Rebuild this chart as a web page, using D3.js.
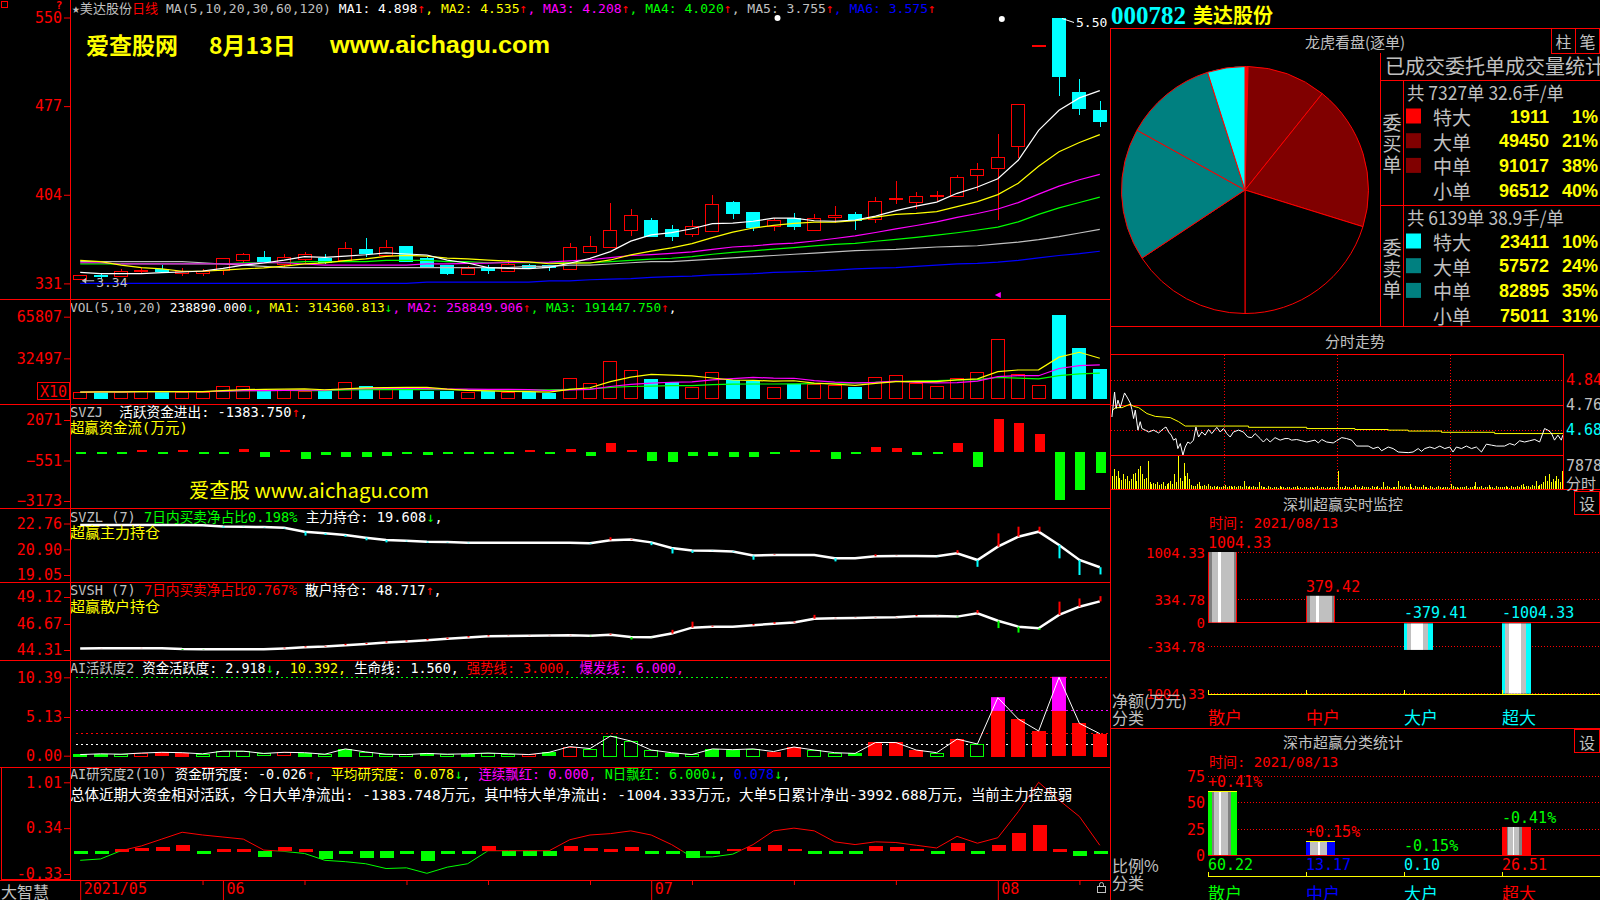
<!DOCTYPE html>
<html>
<head>
<meta charset="utf-8">
<title>000782 美达股份</title>
<script src="https://cdn.jsdelivr.net/npm/d3@7/dist/d3.min.js"></script>
<style>
  html, body { margin: 0; padding: 0; background: #000; overflow: hidden; }
  svg { display: block; }
  text { white-space: pre; }
</style>
</head>
<body>
<div id="chart"></div>
<script>
// ---- daily candles 2021/05 .. 2021/08/13 ----
var open  = [3.35,3.38,3.37,3.41,3.43,3.39,3.39,3.42,3.50,3.53,
             3.47,3.51,3.52,3.50,3.59,3.54,3.62,3.52,3.46,3.39,
             3.44,3.41,3.46,3.46,3.43,3.57,3.61,3.75,3.83,3.76,
             3.71,3.74,3.98,3.90,3.78,3.85,3.75,3.85,3.88,3.84,
             4.00,3.98,4.03,4.03,4.20,4.26,4.44,5.27,5.50,4.89,4.74];
var close = [3.38,3.37,3.41,3.42,3.41,3.41,3.41,3.52,3.55,3.50,
             3.53,3.55,3.49,3.60,3.56,3.61,3.50,3.45,3.39,3.44,
             3.42,3.47,3.44,3.44,3.61,3.62,3.75,3.87,3.70,3.70,
             3.78,3.96,3.89,3.78,3.83,3.78,3.85,3.87,3.83,3.99,
             4.01,4.03,4.04,4.19,4.25,4.35,4.79,5.27,5.02,4.76,4.65];
var high  = [3.38,3.39,3.43,3.44,3.46,3.44,3.43,3.52,3.56,3.58,
             3.55,3.57,3.55,3.65,3.68,3.67,3.62,3.53,3.46,3.45,
             3.46,3.50,3.47,3.46,3.64,3.70,3.97,3.92,3.85,3.79,
             3.83,4.04,3.99,3.90,3.85,3.89,3.88,3.95,3.90,4.02,
             4.15,4.06,4.07,4.20,4.30,4.54,4.79,5.27,5.50,4.99,4.81];
var low   = [3.34,3.35,3.36,3.39,3.40,3.37,3.37,3.38,3.48,3.50,
             3.44,3.48,3.47,3.49,3.53,3.53,3.49,3.44,3.38,3.38,
             3.39,3.41,3.43,3.41,3.43,3.56,3.61,3.70,3.69,3.66,
             3.69,3.74,3.84,3.74,3.74,3.75,3.75,3.81,3.75,3.81,
             3.96,3.92,3.99,4.02,4.07,3.83,4.34,5.27,4.85,4.70,4.60];

// moving averages
var ma5   = [3.40,3.39,3.39,3.39,3.398,3.404,3.412,3.434,3.460,3.478,
             3.502,3.530,3.524,3.534,3.546,3.562,3.552,3.544,3.502,3.478,
             3.440,3.434,3.432,3.442,3.476,3.516,3.572,3.658,3.710,3.728,
             3.760,3.802,3.806,3.822,3.848,3.848,3.826,3.822,3.832,3.864,
             3.910,3.946,3.980,4.052,4.104,4.172,4.324,4.570,4.736,4.838,4.898];
var ma10  = [3.50,3.49,3.46,3.44,3.43,3.41,3.41,3.42,3.43,3.438,
             3.453,3.471,3.479,3.497,3.512,3.532,3.541,3.534,3.518,3.512,
             3.501,3.493,3.488,3.472,3.477,3.478,3.503,3.545,3.576,3.602,
             3.638,3.687,3.732,3.766,3.788,3.804,3.814,3.814,3.827,3.856,
             3.879,3.886,3.901,3.942,3.984,4.041,4.135,4.275,4.394,4.471,4.535];
var ma20  = [3.48,3.48,3.47,3.47,3.47,3.47,3.47,3.47,3.47,3.48,
             3.48,3.47,3.46,3.46,3.46,3.46,3.46,3.47,3.47,3.475,
             3.477,3.482,3.484,3.485,3.495,3.505,3.522,3.540,3.547,3.557,
             3.570,3.590,3.610,3.619,3.633,3.641,3.659,3.680,3.702,3.729,
             3.759,3.787,3.817,3.854,3.886,3.923,3.975,4.045,4.111,4.164,4.208];
var ma30  = [3.47,3.47,3.47,3.47,3.47,3.47,3.47,3.47,3.48,3.48,
             3.48,3.49,3.49,3.49,3.49,3.50,3.50,3.50,3.49,3.49,
             3.48,3.48,3.48,3.48,3.48,3.48,3.49,3.50,3.51,3.517,
             3.531,3.550,3.566,3.578,3.592,3.605,3.619,3.631,3.640,3.657,
             3.673,3.689,3.707,3.727,3.750,3.774,3.817,3.878,3.932,3.976,4.020];
var ma60  = [3.49,3.49,3.49,3.49,3.49,3.49,3.48,3.47,3.46,3.45,
             3.44,3.44,3.44,3.44,3.44,3.44,3.44,3.44,3.44,3.44,
             3.44,3.44,3.45,3.45,3.46,3.46,3.47,3.48,3.49,3.49,
             3.50,3.51,3.52,3.53,3.54,3.55,3.56,3.57,3.58,3.585,
             3.59,3.60,3.61,3.615,3.62,3.635,3.65,3.67,3.695,3.725,3.755];
var ma120 = [3.31,3.31,3.31,3.31,3.31,3.31,3.31,3.31,3.31,3.31,
             3.31,3.31,3.31,3.31,3.31,3.31,3.31,3.32,3.32,3.32,
             3.32,3.32,3.32,3.33,3.33,3.34,3.345,3.35,3.36,3.365,
             3.37,3.38,3.385,3.39,3.40,3.405,3.41,3.42,3.43,3.435,
             3.44,3.45,3.46,3.47,3.475,3.485,3.50,3.52,3.54,3.555,3.575];

var vol   = [55000,58700,58000,62000,58000,58000,55000,104000,101000,66000,
             72000,64000,66000,136000,104000,82000,77000,64000,64000,58000,
             61000,56000,53000,50000,165000,125000,304000,232000,160000,133000,
             98000,216000,152000,147000,98000,117000,117000,112000,99000,176000,
             189000,130000,104000,165000,216000,478000,197000,109000,673000,411000,238890];

// SVZJ 超赢资金流 (万元)
var svzj  = [-25,-25,-25,25,-25,25,-25,-25,170,-320,
             100,-475,-215,-320,-320,-260,-150,-195,-150,-80,
             -150,-150,100,-100,170,-260,605,130,-580,-650,
             -260,-260,-320,-320,-90,40,100,-475,-100,325,
             240,-215,-90,560,-970,2115,1900,1145,-3130,-2480,-1383.75];
// SVZL 主力持仓, SVSH 散户持仓
var svzl  = [22.65,22.65,22.66,22.66,22.65,22.65,22.64,22.55,22.53,22.50,
             22.45,22.17,22.05,21.93,21.74,21.57,21.52,21.45,21.42,21.38,
             21.38,21.38,21.38,21.38,21.38,21.33,21.55,21.60,21.40,21.00,
             20.82,20.80,20.75,20.45,20.49,20.49,20.49,20.26,20.26,20.40,
             20.42,20.42,20.40,20.62,20.13,21.09,21.81,22.17,21.21,20.13,19.61];
var svsh  = [44.45,44.46,44.46,44.48,44.48,44.40,44.37,44.37,44.37,44.37,
             44.45,44.55,44.62,44.75,44.85,44.98,45.08,45.20,45.32,45.45,
             45.55,45.58,45.60,45.62,45.65,45.60,45.70,45.48,45.46,45.80,
             46.34,46.43,46.43,46.55,46.70,46.80,47.15,47.19,47.22,47.25,
             47.28,47.38,47.40,47.34,47.64,46.97,46.43,46.28,47.49,48.24,48.72];
// AI活跃度2: value and bar kind (R red filled, r red hollow, G green filled, g green hollow)
var act   = [0.15,0.25,0.20,0.35,0.45,0.40,0.25,0.60,0.60,0.30,
             0.45,0.40,0.20,0.90,0.50,0.20,0.15,0.30,0.20,0.25,
             0.35,0.25,0.15,0.45,1.20,0.95,2.60,1.95,0.75,0.40,
             0.15,0.90,0.80,0.90,0.55,1.15,0.75,0.40,0.30,1.75,
             1.75,0.75,0.40,2.20,1.55,7.69,4.86,3.27,10.39,4.29,2.92];
var actKind = ["G","G","g","r","R","R","g","g","g","g",
               "r","G","g","G","g","g","g","G","g","G",
               "g","g","r","G","r","g","g","g","g","G",
               "g","G","G","g","R","R","g","g","G","R",
               "R","R","g","R","g","R","R","R","R","R","R"];
// AI研究度2
var resBar  = [-0.04,-0.01,0.03,0.05,0.06,0.09,-0.01,0.03,0.02,-0.08,
               0.06,0.02,-0.11,-0.01,-0.09,-0.09,-0.01,-0.14,-0.01,-0.01,
               0.08,-0.07,-0.07,-0.07,0.08,0.05,0.03,0.06,-0.01,-0.01,
               -0.10,-0.01,0.04,0.06,0.10,0.04,-0.04,-0.01,-0.01,0.08,
               0.06,0.04,-0.01,0.12,-0.01,0.10,0.27,0.39,0.03,-0.06,-0.03];
var resLine = [-0.13,-0.11,0.01,0.08,0.18,0.28,0.24,0.21,0.18,0.02,
               0.00,-0.03,-0.13,-0.15,-0.18,-0.25,-0.24,-0.32,-0.23,-0.18,
               0.01,0.01,0.01,0.01,0.17,0.24,0.26,0.30,0.24,0.10,
               -0.08,-0.08,-0.04,0.10,0.30,0.34,0.30,0.14,0.10,0.14,
               0.13,0.09,0.05,0.22,0.12,0.20,0.58,1.01,0.75,0.51,0.09];

var monthIdx = [0, 7, 28, 45];
var monthLabels = ["2021/05", "06", "07", "08"];
var weekIdx = [6, 11, 16, 20, 25, 30, 35, 40, 49];

// ---- 龙虎看盘 ----
var orderCats = ["特大", "大单", "中单", "小单"];
var buyVol  = [1911, 49450, 91017, 96512];
var buyPct  = ["1%", "21%", "38%", "40%"];
var sellVol = [23411, 57572, 82895, 75011];
var sellPct = ["10%", "24%", "35%", "31%"];

// ---- 分时 ----
var tickMin = [0.5,1.9,2.7,3.7,4.9,7.2,8.5,10.2,11.1,12,
               12.9,14.3,15.5,16.4,18.2,20,22.6,25.3,27.9,29.2,
               30.6,32,33.2,34.5,35.5,36.8,38.2,39.4,40.8,42.1,
               43.8,45.1,46.5,48.2,50,51.8,53.5,56.2,58,59.7,
               61.5,63.3,65,67.7,70.3,72.6,74.7,76.5,79.2,80.9,
               82.7,84.5,87.1,89.8,92.4,94.2,95.9,98.6,101.3,103.9,
               108.3,110.1,111.9,114.5,118,119.8,122.5,125.1,127.8,130.4,
               136.6,139.2,141.9,143.7,147.2,149.8,152.5,157.8,160.4,163.1,
               164.9,166.6,169.3,171.9,174.6,177.2,179.9,181.6,183.4,186.1,
               188.7,191.4,194,196.7,199.3,202,204.6,209,211.7,214.3,
               217,219.6,222.3,225,227.6,230.2,232,233.8,235.5,237.3,
               239.1,239.9];
var tickPx  = [4.720,4.800,4.747,4.774,4.750,4.797,4.784,4.765,4.744,4.715,
               4.742,4.678,4.705,4.683,4.678,4.672,4.678,4.669,4.683,4.688,
               4.672,4.662,4.646,4.651,4.619,4.635,4.598,4.624,4.640,4.635,
               4.646,4.688,4.656,4.672,4.662,4.680,4.667,4.687,4.672,4.683,
               4.667,4.656,4.672,4.678,4.672,4.656,4.654,4.667,4.651,4.640,
               4.651,4.640,4.654,4.646,4.651,4.651,4.646,4.648,4.644,4.640,
               4.646,4.637,4.648,4.640,4.637,4.644,4.654,4.651,4.646,4.627,
               4.627,4.619,4.624,4.612,4.624,4.619,4.608,4.606,4.608,4.619,
               4.610,4.619,4.624,4.619,4.627,4.619,4.624,4.608,4.624,4.619,
               4.627,4.619,4.624,4.608,4.633,4.630,4.627,4.627,4.635,4.630,
               4.644,4.640,4.644,4.648,4.640,4.683,4.678,4.669,4.646,4.662,
               4.646,4.662];
var avgMin = [0.5,2.3,5.8,10.2,12,14.7,19.1,23.5,31.5,35.9,39.4,73,73,103.9,103.9,
              129.5,129.5,147.2,147.2,157.8,157.8,175.5,175.5,203.7,203.7,240];
var avgPx  = [4.739,4.750,4.750,4.761,4.754,4.750,4.731,4.722,4.718,4.705,4.691,4.691,4.687,4.687,4.683,
              4.683,4.680,4.680,4.678,4.678,4.675,4.675,4.671,4.671,4.667,4.667];
var minuteVol = [3080,4620,3080,4240,2700,2160,3470,2310,3080,1930,
                 2310,3470,3850,1930,4620,5390,3470,2310,2700,6550,
                 1540,1160,1390,1160,1540,920,1160,1690,770,1160,
                 1390,1930,1160,3470,1540,7700,2700,1930,6160,3080,
                 3850,2310,920,620,770,1160,1540,620,770,920,
                 620,1160,770,390,620,460,770,390,460,620,
                 920,460,620,770,390,620,460,620,770,390,
                 1930,620,460,770,460,620,390,460,1690,620,
                 390,460,310,620,390,230,460,390,310,620,
                 460,390,230,390,540,310,460,390,620,310,
                 390,230,460,390,310,540,390,230,460,620,
                 310,390,460,230,390,310,540,390,460,310,
                 4240,460,390,310,620,390,460,230,390,920,
                 460,390,310,620,460,390,540,310,770,460,
                 390,620,310,460,1540,390,620,460,310,540,
                 390,460,1930,620,460,770,390,540,1160,460,
                 310,620,390,460,540,920,390,460,310,620,
                 390,230,460,620,390,310,460,390,540,310,
                 1160,620,390,460,310,540,390,460,620,310,
                 390,460,770,1540,460,390,620,310,460,390,
                 920,390,460,310,620,390,460,540,390,620,
                 460,310,770,460,390,620,460,920,1160,460,
                 620,770,460,920,620,1930,770,920,1160,1540,
                 3080,1930,3470,1540,2310,1930,3080,2310,1540,4240];

// ---- 超赢监控 ----
var groups = ["散户", "中户", "大户", "超大"];
var netAmt = [1004.33, 379.42, -379.41, -1004.33];
var ratio  = [60.22, 13.17, 0.10, 26.51];
var ratioChg = ["+0.41%", "+0.15%", "-0.15%", "-0.41%"];

var RED = "#ff0000", CYAN = "#00ffff", GRAY = "#c0c0c0", WHITE = "#ffffff", YEL = "#ffff00",
    MAG = "#ff00ff", GRN = "#00ff00", BLUE = "#0000ff", DRED = "#800000", TEAL = "#008080";
var MONO = '"DejaVu Sans Mono", "Noto Sans CJK SC", monospace';
var CJK = '"Noto Sans CJK SC", "Noto Sans", sans-serif';
var NUM = '"Liberation Sans Narrow", "Liberation Sans", sans-serif';

var svg = d3.select("#chart").append("svg")
    .attr("width", 1600).attr("height", 900)
    .style("background", "#000")
    .attr("font-family", MONO);
var defs = svg.append("defs");

var N = close.length, idx = d3.range(N);
var x = d3.scalePoint().domain(idx).range([70, 1110]).padding(0.5);
var bw = Math.round(x.step() * 0.7);
function cx(i) { return Math.round(x(i)) + 0.5; }
function bx(i, w) { return Math.round(x(i) - w / 2) + 0.5; }

function label(g, x0, y0, s, color, size, anchor, family, weight) {
  return g.append("text").attr("x", x0).attr("y", y0)
    .attr("fill", color).attr("font-size", size)
    .attr("text-anchor", anchor || "start")
    .attr("dominant-baseline", "central")
    .attr("font-family", family || MONO)
    .attr("font-weight", weight || "normal")
    .text(s);
}
// coloured title: natural glyphs, font size tuned so the line spans `len` px
function titleLine(g, x0, y0, parts, len, size) {
  var t = g.append("text").attr("x", x0).attr("y", y0)
    .attr("font-size", size).attr("dominant-baseline", "central");
  parts.forEach(function(p) { t.append("tspan").attr("fill", p[1]).text(p[0]); });
  var w = t.node().getComputedTextLength();
  if (w > 0) t.attr("font-size", (size * len / w).toFixed(2));
  return t;
}
function leftAxis(scale, vals, fmt) {
  var g = svg.append("g").attr("transform", "translate(70,0)")
    .call(d3.axisLeft(scale).tickValues(vals).tickFormat(fmt).tickSize(6).tickSizeOuter(0).tickPadding(2));
  g.select(".domain").remove();
  g.attr("color", RED).attr("font-size", 15).attr("font-family", MONO);
  return g;
}
function hline(g, x1, x2, y, color, dash) {
  var l = g.append("line").attr("x1", x1).attr("x2", x2).attr("y1", y).attr("y2", y)
    .attr("stroke", color).attr("shape-rendering", "crispEdges");
  if (dash) l.attr("stroke-dasharray", dash);
  return l;
}
function vline(g, xx, y1, y2, color, dash) {
  var l = g.append("line").attr("x1", xx).attr("x2", xx).attr("y1", y1).attr("y2", y2)
    .attr("stroke", color).attr("shape-rendering", "crispEdges");
  if (dash) l.attr("stroke-dasharray", dash);
  return l;
}

// ================= K line panel =================
var yP = d3.scaleLinear().domain([3.31, 5.50]).range([283.4, 17.5]);
leftAxis(yP, [5.50, 4.77, 4.04, 3.31], function(d) { return Math.round(d * 100); });

var gK = svg.append("g").attr("shape-rendering", "crispEdges");
function isUp(i) { return close[i] >= open[i]; }
gK.selectAll("line").data(idx).join("line")
  .attr("x1", cx).attr("x2", cx)
  .attr("y1", function(i) { return yP(high[i]); })
  .attr("y2", function(i) { return yP(low[i]); })
  .attr("stroke", function(i) { return isUp(i) ? RED : CYAN; });
gK.selectAll("rect").data(idx).join("rect")
  .attr("x", function(i) { return bx(i, bw); })
  .attr("width", bw - 1)
  .attr("y", function(i) { return Math.round(yP(Math.max(open[i], close[i]))) + 0.5; })
  .attr("height", function(i) { return Math.max(1, Math.round(Math.abs(yP(open[i]) - yP(close[i])))); })
  .attr("fill", function(i) {
    var h = Math.abs(yP(open[i]) - yP(close[i]));
    return isUp(i) ? (h < 2 ? RED : "#000") : CYAN;
  })
  .attr("stroke", function(i) { return isUp(i) ? RED : CYAN; });

var maSeries = [[ma120, BLUE], [ma60, GRAY], [ma30, GRN], [ma20, MAG], [ma10, YEL], [ma5, WHITE]];
var lineP = d3.line().x(function(d, i) { return x(i); }).y(function(d) { return yP(d); });
svg.append("g").selectAll("path").data(maSeries).join("path")
  .attr("d", function(d) { return lineP(d[0]); })
  .attr("fill", "none").attr("stroke", function(d) { return d[1]; }).attr("stroke-width", 1.2);

// high / low markers
var iHi = d3.maxIndex(high), iLo = d3.minIndex(low);
var gM = svg.append("g");
gM.append("line").attr("x1", x(iHi) + 3).attr("x2", x(iHi) + 15)
  .attr("y1", yP(high[iHi]) + 1).attr("y2", yP(high[iHi]) + 5).attr("stroke", WHITE);
label(gM, x(iHi) + 17, yP(high[iHi]) + 5, high[iHi].toFixed(2), WHITE, 13);
gM.append("line").attr("x1", x(iLo) + 2).attr("x2", x(iLo) + 14)
  .attr("y1", yP(low[iLo]) + 1).attr("y2", yP(low[iLo]) + 1).attr("stroke", GRAY);
gM.append("path").attr("d", "M" + (x(iLo) + 2) + "," + (yP(low[iLo]) + 1) + "l4,-3v6z").attr("fill", GRAY);
label(gM, x(iLo) + 16, yP(low[iLo]) + 3, low[iLo].toFixed(2), GRAY, 13);
// event marks
[[34, 18], [45, 19]].forEach(function(m) {
  gM.append("circle").attr("cx", x(m[0]) + 4).attr("cy", m[1]).attr("r", 3).attr("fill", WHITE);
});
gM.append("path").attr("d", "M" + (x(45) - 3) + ",295l6,-3v6z").attr("fill", MAG);

var gT = svg.append("g");
titleLine(gT, 72, 7.5, [
  ["★美达股份", GRAY], ["日线", RED], [" MA(5,10,20,30,60,120) ", GRAY],
  ["MA1: " + ma5[N - 1].toFixed(3), WHITE], ["↑", RED],
  [", MA2: " + ma10[N - 1].toFixed(3), YEL], ["↑", RED],
  [", MA3: " + ma20[N - 1].toFixed(3), MAG], ["↑", RED],
  [", MA4: " + ma30[N - 1].toFixed(3), GRN], ["↑", RED],
  [", MA5: " + ma60[N - 1].toFixed(3), GRAY], ["↑", RED],
  [", MA6: " + ma120[N - 1].toFixed(3), BLUE], ["↑", RED]
], 865, 13);
label(gT, 86, 44, "爱查股网", YEL, 23, "start", CJK, "bold");
label(gT, 209, 44, "8月13日", YEL, 23, "start", CJK, "bold");
label(gT, 330, 44, "www.aichagu.com", YEL, 24, "start", '"Liberation Sans", sans-serif', "bold")
  .attr("textLength", 220).attr("lengthAdjust", "spacingAndGlyphs");
gT.append("rect").attr("x", 1.5).attr("y", 1.5).attr("width", 6).attr("height", 6)
  .attr("fill", "none").attr("stroke", RED);
label(gT, 59, 5, "?", RED, 11, "middle", MONO, "bold");

// ================= volume panel =================
var yV = d3.scaleLinear().domain([0, 658070]).range([399, 316.7]);
leftAxis(yV, [658070, 324970], function(d) { return Math.round(d / 10); });
var gV = svg.append("g").attr("shape-rendering", "crispEdges");
gV.selectAll("rect").data(idx).join("rect")
  .attr("x", function(i) { return bx(i, bw); })
  .attr("width", bw - 1)
  .attr("y", function(i) { return Math.round(yV(vol[i])) + 0.5; })
  .attr("height", function(i) { return Math.max(1, Math.round(yV(0) - yV(vol[i])) - 1); })
  .attr("fill", function(i) { return isUp(i) ? "#000" : CYAN; })
  .attr("stroke", function(i) { return isUp(i) ? RED : CYAN; });
function movAvg(arr, n) {
  return arr.map(function(v, i) { return d3.mean(arr.slice(Math.max(0, i - n + 1), i + 1)); });
}
var lineV = d3.line().x(function(d, i) { return x(i); }).y(function(d) { return yV(d); });
[[movAvg(vol, 20), GRN], [movAvg(vol, 10), MAG], [movAvg(vol, 5), YEL]].forEach(function(s) {
  svg.append("path").attr("d", lineV(s[0])).attr("fill", "none").attr("stroke", s[1]).attr("stroke-width", 1.2);
});
titleLine(svg, 70, 307, [
  ["VOL(5,10,20) ", GRAY], [vol[N - 1].toFixed(3), WHITE], ["↓", GRN],
  [", MA1: 314360.813", YEL], ["↓", GRN], [", MA2: 258849.906", MAG], ["↑", RED],
  [", MA3: 191447.750", GRN], ["↑", RED], [",", WHITE]
], 607, 13);
svg.append("rect").attr("x", 37.5).attr("y", 382.5).attr("width", 32).attr("height", 17)
  .attr("fill", "#000").attr("stroke", RED);
label(svg, 53.5, 391.5, "X10", RED, 15, "middle");

// ================= SVZJ =================
var yZ = d3.scaleLinear().domain([-3173, 2071]).range([501, 420]);
leftAxis(yZ, [2071, -551, -3173], d3.format("d"));
var z0 = yZ(0);
svg.append("g").attr("shape-rendering", "crispEdges")
  .selectAll("rect").data(idx).join("rect")
  .attr("x", function(i) { return bx(i, 10); }).attr("width", 10)
  .attr("y", function(i) { return svzj[i] >= 0 ? Math.min(yZ(svzj[i]), z0 - 2) : z0; })
  .attr("height", function(i) { return Math.max(2, Math.abs(yZ(svzj[i]) - z0)); })
  .attr("fill", function(i) { return svzj[i] >= 0 ? RED : GRN; });
titleLine(svg, 70, 411.5, [["SVZJ  ", GRAY], ["活跃资金进出: " + svzj[N - 1].toFixed(3), WHITE], ["↑", RED], [",", WHITE]], 238, 14);
titleLine(svg, 70, 428, [["超赢资金流(万元)", YEL]], 118, 14);
label(svg, 189, 489, "爱查股 www.aichagu.com", YEL, 20, "start", CJK)
  .attr("textLength", 240).attr("lengthAdjust", "spacingAndGlyphs");

// ================= SVZL / SVSH =================
function holdPanel(vals, scale, ticks, downColor) {
  leftAxis(scale, ticks, function(d) { return d.toFixed(2); });
  var ln = d3.line().x(function(d, i) { return x(i); }).y(function(d) { return scale(d); });
  svg.append("path").attr("d", ln(vals)).attr("fill", "none").attr("stroke", WHITE).attr("stroke-width", 2.5);
  svg.append("g").selectAll("line").data(idx.slice(1)).join("line")
    .attr("x1", cx).attr("x2", cx)
    .attr("y1", function(i) { return scale(vals[i]); })
    .attr("y2", function(i) { return scale(vals[i] + (vals[i] - vals[i - 1])); })
    .attr("stroke", function(i) { return vals[i] >= vals[i - 1] ? RED : downColor; })
    .attr("stroke-width", 2);
}
var yL = d3.scaleLinear().domain([19.05, 22.76]).range([575, 523.5]);
holdPanel(svzl, yL, [22.76, 20.90, 19.05], CYAN);
titleLine(svg, 70, 516.5, [["SVZL (7) ", GRAY], ["7日内买卖净占比0.198%", GRN], [" 主力持仓: 19.608", WHITE], ["↓", GRN], [",", WHITE]], 373, 14);
titleLine(svg, 70, 533, [["超赢主力持仓", YEL]], 90, 14);

var yS = d3.scaleLinear().domain([44.31, 49.12]).range([650, 597]);
holdPanel(svsh, yS, [49.12, 46.67, 44.31], GRN);
titleLine(svg, 70, 590, [["SVSH (7) ", GRAY], ["7日内买卖净占比0.767%", RED], [" 散户持仓: 48.717", WHITE], ["↑", RED], [",", WHITE]], 372, 14);
titleLine(svg, 70, 606.5, [["超赢散户持仓", YEL]], 90, 14);

// ================= AI活跃度2 =================
var yA = d3.scaleLinear().domain([0, 10.39]).range([755.7, 677.3]);
leftAxis(yA, [10.39, 5.13, 0], function(d) { return d.toFixed(2); });
var gA = svg.append("g");
hline(gA, 76, 730, Math.round(yA(10.39)) + 0.5, GRN, "2,3");
hline(gA, 730, 1108, Math.round(yA(10.39)) + 0.5, RED, "2,3");
hline(gA, 76, 1108, Math.round(yA(6)) + 0.5, MAG, "2,3");
hline(gA, 76, 1108, Math.round(yA(3)) + 0.5, RED, "2,3");
hline(gA, 76, 1108, Math.round(yA(1.56)) + 0.5, WHITE, "2,3");
var a0 = yA(0);
gA.append("g").attr("shape-rendering", "crispEdges")
  .selectAll("rect").data(idx).join("rect")
  .attr("x", function(i) { return bx(i, bw); }).attr("width", bw - 1)
  .attr("y", function(i) { return Math.round(Math.min(yA(act[i]), a0 - 2)) + 0.5; })
  .attr("height", function(i) { return Math.max(2, Math.round(a0 - yA(act[i]))); })
  .attr("fill", function(i) { var k = actKind[i]; return k === "R" ? RED : k === "G" ? GRN : "#000"; })
  .attr("stroke", function(i) { var k = actKind[i]; return (k === "R" || k === "r") ? RED : GRN; });
gA.append("g").selectAll("rect").data(idx.filter(function(i) { return act[i] > 6; })).join("rect")
  .attr("x", function(i) { return bx(i, bw); }).attr("width", bw - 1)
  .attr("y", function(i) { return yA(act[i]); })
  .attr("height", function(i) { return yA(6) - yA(act[i]); })
  .attr("fill", MAG).attr("stroke", MAG);
gA.append("path").attr("d", d3.line().x(function(d, i) { return x(i); }).y(function(d) { return yA(d); })(act))
  .attr("fill", "none").attr("stroke", WHITE).attr("stroke-width", 1);
titleLine(svg, 70, 667.5, [
  ["AI活跃度2 ", GRAY], ["资金活跃度: 2.918", WHITE], ["↓", GRN],
  [", ", WHITE], ["10.392, ", YEL], ["生命线: 1.560, ", WHITE], ["强势线: 3.000, ", RED], ["爆发线: 6.000,", MAG]
], 614, 14);

// ================= AI研究度2 =================
var yR = d3.scaleLinear().domain([-0.33, 1.01]).range([874, 782.3]);
leftAxis(yR, [1.01, 0.34, -0.33], function(d) { return d.toFixed(2); });
var r0 = yR(0);
svg.append("g").attr("shape-rendering", "crispEdges")
  .selectAll("rect").data(idx).join("rect")
  .attr("x", function(i) { return bx(i, bw); }).attr("width", bw)
  .attr("y", function(i) { return resBar[i] >= 0 ? Math.min(yR(resBar[i]), r0 - 2) : r0; })
  .attr("height", function(i) { return Math.max(2.5, Math.abs(yR(resBar[i]) - r0)); })
  .attr("fill", function(i) { return resBar[i] >= 0 ? RED : GRN; });
defs.append("clipPath").attr("id", "resUp").append("rect")
  .attr("x", 70).attr("y", 767).attr("width", 1040).attr("height", r0 - 767);
defs.append("clipPath").attr("id", "resDn").append("rect")
  .attr("x", 70).attr("y", r0).attr("width", 1040).attr("height", 880 - r0);
var lineR = d3.line().x(function(d, i) { return x(i); }).y(function(d) { return yR(d); });
svg.append("path").attr("d", lineR(resLine)).attr("fill", "none").attr("stroke", RED).attr("clip-path", "url(#resUp)");
svg.append("path").attr("d", lineR(resLine)).attr("fill", "none").attr("stroke", GRN).attr("clip-path", "url(#resDn)");
titleLine(svg, 70, 774, [
  ["AI研究度2(10) ", GRAY], ["资金研究度: -0.026", WHITE], ["↑", RED],
  [", ", WHITE], ["平均研究度: 0.078", YEL], ["↓", GRN], [", ", WHITE], ["连续飘红: 0.000, ", MAG],
  ["N日飘红: 6.000", GRN], ["↓", GRN], [", ", WHITE], ["0.078", BLUE], ["↓", GRN], [",", WHITE]
], 721, 14);
titleLine(svg, 70, 795, [["总体近期大资金相对活跃，今日大单净流出: -1383.748万元，其中特大单净流出: -1004.333万元，大单5日累计净出-3992.688万元，当前主力控盘弱", WHITE]], 1003, 15);

// ================= date axis =================
var gD = svg.append("g").attr("transform", "translate(0,880)")
  .call(d3.axisBottom(x).tickValues(monthIdx).tickSize(20).tickSizeOuter(0)
    .tickFormat(function(d, k) { return monthLabels[k]; }));
gD.select(".domain").remove();
gD.attr("color", RED).attr("font-size", 15).attr("font-family", MONO);
gD.selectAll(".tick text").attr("text-anchor", "start").attr("x", 3).attr("y", 9).attr("dy", "0.35em");
var gW = svg.append("g").attr("transform", "translate(0,880)")
  .call(d3.axisBottom(x).tickValues(weekIdx).tickSize(5).tickSizeOuter(0).tickFormat(""));
gW.select(".domain").remove();
gW.attr("color", RED);
label(svg, 1, 891, "大智慧", GRAY, 16, "start", CJK);
svg.append("rect").attr("x", 1097.5).attr("y", 886.5).attr("width", 8).attr("height", 6).attr("fill", "none").attr("stroke", GRAY);
svg.append("path").attr("d", "M1099.5,886.5v-2a2,2 0 0 1 4,0v2").attr("fill", "none").attr("stroke", GRAY);

// ================= left frames =================
var gF = svg.append("g");
[299, 404, 508, 582, 660, 767, 880].forEach(function(yy) { hline(gF, 0, 1110, yy + 0.5, RED); });
vline(gF, 70.5, 0, 880, RED);
vline(gF, 1110.5, 28, 900, RED);
gF.append("rect").attr("x", 1.5).attr("y", 767.5).attr("width", 69).attr("height", 112)
  .attr("fill", "none").attr("stroke", RED).attr("shape-rendering", "crispEdges");

// ================= right: header & 龙虎看盘 =================
var gR = svg.append("g");
label(gR, 1111, 15, "000782", CYAN, 25, "start", '"Liberation Serif", serif', "bold");
label(gR, 1193, 14, "美达股份", YEL, 20, "start", CJK, "bold");
hline(gR, 1110, 1600, 28.5, RED);
label(gR, 1355, 41, "龙虎看盘(逐单)", GRAY, 15, "middle", CJK);
[[1551.5, "柱"], [1575.5, "笔"]].forEach(function(b) {
  gR.append("rect").attr("x", b[0]).attr("y", 28.5).attr("width", 24).attr("height", 25)
    .attr("fill", "none").attr("stroke", RED).attr("shape-rendering", "crispEdges");
  label(gR, b[0] + 12, 41, b[1], GRAY, 16, "middle", CJK);
});

var pieVals = buyVol.concat(sellVol.slice().reverse());
var pieCols = [RED, DRED, DRED, "#000", "#000", TEAL, TEAL, CYAN];
var arcs = d3.pie().sort(null)(pieVals);
var arc = d3.arc().innerRadius(0).outerRadius(123.5);
gR.append("g").attr("transform", "translate(1245,190)")
  .selectAll("path").data(arcs).join("path")
  .attr("d", arc).attr("fill", function(d, k) { return pieCols[k]; })
  .attr("stroke", RED).attr("stroke-width", 1);

vline(gR, 1380.5, 53, 326, RED);
vline(gR, 1403.5, 80, 326, RED);
hline(gR, 1380, 1600, 80.5, RED);
hline(gR, 1380, 1600, 205.5, RED);
label(gR, 1385, 65, "已成交委托单成交量统计", GRAY, 20, "start", CJK);

function orderBlock(y0, head, vols, pcts, cols, side) {
  label(gR, 1407, y0, head, GRAY, 18, "start", CJK)
    .attr("textLength", 157).attr("lengthAdjust", "spacingAndGlyphs");
  vols.forEach(function(v, k) {
    var yy = y0 + 25 + k * 24.7;
    if (cols[k]) gR.append("rect").attr("x", 1406).attr("y", yy - 8).attr("width", 15).attr("height", 15).attr("fill", cols[k]);
    label(gR, 1433, yy, orderCats[k], GRAY, 19, "start", CJK);
    label(gR, 1549, yy, String(v), YEL, 18, "end", NUM, "bold");
    label(gR, 1598, yy, pcts[k], YEL, 18, "end", NUM, "bold");
  });
  side.forEach(function(ch, k) { label(gR, 1392, y0 + 30 + k * 21, ch, GRAY, 19, "middle", CJK); });
}
orderBlock(91.5, "共 7327单 32.6手/单", buyVol, buyPct, [RED, DRED, DRED, null], ["委", "买", "单"]);
orderBlock(216.5, "共 6139单 38.9手/单", sellVol, sellPct, [CYAN, TEAL, TEAL, null], ["委", "卖", "单"]);

// ================= 分时走势 =================
hline(gR, 1110, 1600, 326.5, RED);
label(gR, 1355, 340, "分时走势", GRAY, 15, "middle", CJK);
var xI = d3.scaleLinear().domain([0, 240]).range([1111, 1563]);
var yI = d3.scaleLinear().domain([4.68, 4.84]).range([429.5, 379.5]);
var yIV = d3.scaleLinear().domain([0, 7878]).range([489, 455.5]);
hline(gR, 1110, 1563, 354.5, RED);
hline(gR, 1110, 1563, Math.round(yI(4.76)) + 0.5, RED);
hline(gR, 1110, 1563, 455.5, RED);
hline(gR, 1110, 1600, 489.5, RED);
vline(gR, 1563.5, 354, 490, RED);
[4.84, 4.68].forEach(function(p) { hline(gR, 1111, 1563, Math.round(yI(p)) + 0.5, RED, "1,2"); });
[60, 120, 180].forEach(function(m) { vline(gR, Math.round(xI(m)) + 0.5, 355, 489, RED, "1,2"); });
label(gR, 1566, yI(4.84), "4.840", RED, 15);
label(gR, 1566, yI(4.76), "4.760", GRAY, 15);
label(gR, 1566, yI(4.68), "4.680", CYAN, 15);
label(gR, 1566, 466, "7878", GRAY, 15);
label(gR, 1566, 482, "分时", GRAY, 15, "start", CJK);
gR.append("g").attr("shape-rendering", "crispEdges")
  .selectAll("line").data(minuteVol).join("line")
  .attr("x1", function(d, m) { return Math.round(xI(m + 0.5)) + 0.5; })
  .attr("x2", function(d, m) { return Math.round(xI(m + 0.5)) + 0.5; })
  .attr("y1", 489).attr("y2", function(d) { return yIV(d); })
  .attr("stroke", YEL);
defs.append("clipPath").attr("id", "tbox").append("rect")
  .attr("x", 1111).attr("y", 355).attr("width", 452).attr("height", 100);
gR.append("path")
  .attr("d", d3.line().x(function(d, k) { return xI(avgMin[k]); }).y(function(d) { return yI(d); })(avgPx))
  .attr("fill", "none").attr("stroke", YEL).attr("clip-path", "url(#tbox)");
gR.append("path")
  .attr("d", d3.line().x(function(d, k) { return xI(tickMin[k]); }).y(function(d) { return yI(d); })(tickPx))
  .attr("fill", "none").attr("stroke", WHITE).attr("clip-path", "url(#tbox)");

// ================= 超赢 bar panels =================
function stripes(id, list) {
  var g = defs.append("linearGradient").attr("id", id).attr("x1", 0).attr("x2", 1).attr("y1", 0).attr("y2", 0);
  list.forEach(function(s) {
    g.append("stop").attr("offset", s[0]).attr("stop-color", s[2]);
    g.append("stop").attr("offset", s[1]).attr("stop-color", s[2]);
  });
}
var SG = "#808080", SL = "#c0c0c0";
stripes("gRed", [[0, .04, RED], [.04, .14, SG], [.14, .34, SL], [.34, .46, WHITE], [.46, .90, SL], [.90, .96, SG], [.96, 1, RED]]);
stripes("gCyan", [[0, .1, CYAN], [.1, .23, SL], [.23, .67, WHITE], [.67, .84, SL], [.84, 1, CYAN]]);
stripes("gGrn", [[0, .14, GRN], [.14, .2, SG], [.2, .37, SL], [.37, .45, WHITE], [.45, .68, SL], [.68, .8, SG], [.8, 1, GRN]]);
stripes("gBlue", [[0, .15, BLUE], [.15, .40, SL], [.40, .48, WHITE], [.48, .72, SL], [.72, 1, BLUE]]);
stripes("gRed2", [[0, .17, RED], [.17, .22, SG], [.22, .37, SL], [.37, .43, WHITE], [.43, .6, SL], [.6, .7, SG], [.7, 1, RED]]);

var xG = d3.scaleBand().domain(groups).range([1208, 1600]).paddingInner(0.7).paddingOuter(0.35).align(0);

// 深圳超赢实时监控
label(gR, 1343, 503, "深圳超赢实时监控", GRAY, 15, "middle", CJK);
gR.append("rect").attr("x", 1574.5).attr("y", 491.5).attr("width", 25).attr("height", 23)
  .attr("fill", "none").attr("stroke", RED).attr("shape-rendering", "crispEdges");
label(gR, 1587, 503, "设", GRAY, 16, "middle", CJK);
label(gR, 1209, 523, "时间: 2021/08/13", RED, 14);
var amax = d3.max(netAmt, Math.abs);
var yM = d3.scaleLinear().domain([-amax, amax]).range([692.7, 552]);
[amax, amax / 3, 0, -amax / 3, -amax].forEach(function(t) {
  var yy = Math.round(yM(t)) + 0.5;
  if (t === 0) hline(gR, 1208, 1600, yy, RED); else hline(gR, 1208, 1600, yy, RED, "1,2");
  label(gR, 1205, yy, t === 0 ? "0" : t.toFixed(2), RED, 14, "end");
});
var bW = Math.round(xG.bandwidth());
groups.forEach(function(gname, k) {
  var v = netAmt[k], bx0 = Math.round(xG(gname));
  var top = v >= 0 ? yM(v) : yM(0) + 1, h = Math.abs(yM(v) - yM(0));
  gR.append("rect").attr("x", bx0).attr("y", top).attr("width", bW).attr("height", h)
    .attr("fill", v >= 0 ? "url(#gRed)" : "url(#gCyan)");
  label(gR, bx0, v >= 0 ? yM(v) - 9 : yM(0) - 9, v.toFixed(2), v >= 0 ? RED : CYAN, 15);
  label(gR, bx0, 716.5, gname, v >= 0 ? RED : CYAN, 17, "start", CJK);
  vline(gR, bx0 + 0.5, 690, 694, YEL);
});
hline(gR, 1208, 1600, 694.5, YEL);
label(gR, 1112, 700, "净额(万元)", GRAY, 16, "start", CJK);
label(gR, 1112, 717, "分类", GRAY, 16, "start", CJK);
hline(gR, 1110, 1600, 728.5, RED);

// 深市超赢分类统计
label(gR, 1343, 741.5, "深市超赢分类统计", GRAY, 15, "middle", CJK);
gR.append("rect").attr("x", 1574.5).attr("y", 729.5).attr("width", 25).attr("height", 23)
  .attr("fill", "none").attr("stroke", RED).attr("shape-rendering", "crispEdges");
label(gR, 1587, 741.5, "设", GRAY, 16, "middle", CJK);
label(gR, 1209, 761.5, "时间: 2021/08/13", RED, 14);
var yQ = d3.scaleLinear().domain([0, 75]).range([855, 775.7]);
[75, 50, 25, 0].forEach(function(t) {
  var yy = Math.round(yQ(t)) + 0.5;
  if (t === 0) hline(gR, 1208, 1600, yy, RED); else hline(gR, 1208, 1600, yy, RED, "1,2");
  label(gR, 1205, yy, String(t), RED, 15, "end");
});
var qFill = ["url(#gGrn)", "url(#gBlue)", "url(#gCyan)", "url(#gRed2)"];
var qCol = [GRN, BLUE, CYAN, RED];
var chgCol = [RED, RED, GRN, GRN];
groups.forEach(function(gname, k) {
  var v = ratio[k], bx0 = Math.round(xG(gname));
  var h = yQ(0) - yQ(v);
  if (h >= 1) {
    gR.append("rect").attr("x", bx0).attr("y", yQ(v)).attr("width", bW).attr("height", h).attr("fill", qFill[k]);
    if (k < 2) hline(gR, bx0, bx0 + bW, Math.round(yQ(v)) + 0.5, YEL);
  }
  label(gR, bx0, yQ(v) - 9, ratioChg[k], chgCol[k], 15);
  label(gR, bx0, 865, v.toFixed(2), qCol[k], 15);
  label(gR, bx0, 892, gname, qCol[k], 17, "start", CJK);
  vline(gR, bx0 + 0.5, 872, 876, YEL);
});
hline(gR, 1208, 1600, 876.5, YEL);
label(gR, 1112, 865, "比例%", GRAY, 16, "start", CJK);
label(gR, 1112, 882, "分类", GRAY, 16, "start", CJK);
</script>
</body>
</html>
